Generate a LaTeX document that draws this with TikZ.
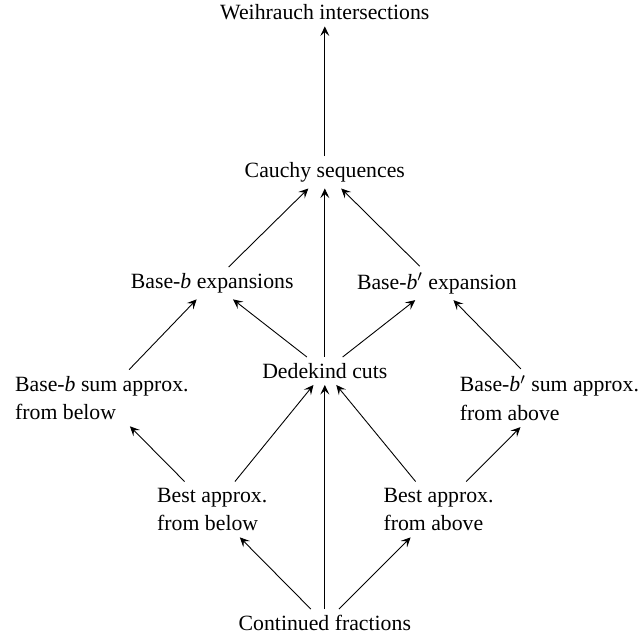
\documentclass[tikz,border=0pt]{standalone}
\usepackage{fontspec}
\setmainfont{Liberation Serif}
\usetikzlibrary{arrows.meta}
\tikzset{
  item/.style={align=left, inner sep=3pt, font=\fontsize{11}{14.5}\selectfont},
  arr/.style={-{Stealth[length=1.7mm, width=1.6mm, inset=0.7mm]}, line width=.45pt}
}
\newcommand{\bb}{\textit{b}}
\begin{document}
\begin{tikzpicture}
  \useasboundingbox (-5.77,-0.21) rectangle (5.67,11.07);
  \node[item] (cf) at (0,0) {Continued fractions};
  \node[item] (bbl) at (-2,2.02) {Best approx.\\from below};
  \node[item] (bab) at (2.02,2.02) {Best approx.\\from above};
  \node[item] (sbl) at (-3.96,4.0) {Base-\bb{} sum approx.\\from below};
  \node[item] (sab) at (3.99,4.0) {Base-\bb$'$ sum approx.\\from above};
  \node[item] (dk) at (0,4.48) {Dedekind cuts};
  \node[item] (bx) at (-2,6.04) {Base-\bb{} expansions};
  \node[item] (bpx) at (1.99,6.04) {Base-\bb$'$ expansion};
  \node[item] (cs) at (0,8.01) {Cauchy sequences};
  \node[item] (wi) at (0,10.85) {Weihrauch intersections};

  \draw[arr] (cf) -- (bbl);
  \draw[arr] (cf) -- (dk);
  \draw[arr] (cf) -- (bab);
  \draw[arr] (bbl) -- (sbl);
  \draw[arr] (bbl) -- (dk);
  \draw[arr] (bab) -- (dk);
  \draw[arr] (bab) -- (sab);
  \draw[arr] (sbl) -- (bx);
  \draw[arr] (dk) -- (bx);
  \draw[arr] (dk) -- (cs);
  \draw[arr] (dk) -- (bpx);
  \draw[arr] (sab) -- (bpx);
  \draw[arr] (bx) -- (cs);
  \draw[arr] (bpx) -- (cs);
  \draw[arr] (cs) -- (wi);
\end{tikzpicture}
\end{document}
